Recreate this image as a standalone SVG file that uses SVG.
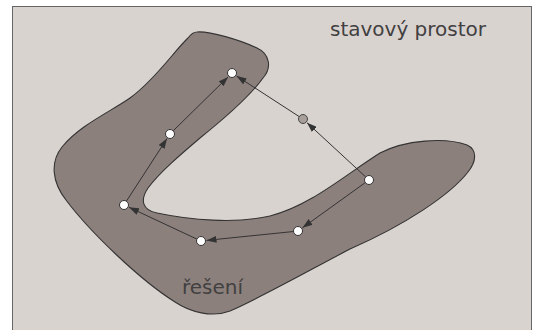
<svg xmlns="http://www.w3.org/2000/svg" width="536" height="330" viewBox="0 0 536 330">
<style>
.lbl{font-family:"DejaVu Sans",Verdana,sans-serif;font-size:20px;fill:#424040}
.edge{stroke:#333;stroke-width:1;fill:none;marker-end:url(#ah)}
.node{fill:#fff;stroke:#333;stroke-width:1}
.gnode{fill:#a89e9a;stroke:#444;stroke-width:1}
</style>
<defs>
<marker id="ah" markerUnits="userSpaceOnUse" markerWidth="10" markerHeight="7" refX="10" refY="3.5" orient="auto">
<path d="M0,0 L10,3.5 L0,7 z" fill="#333"/>
</marker>
</defs>
<rect x="0" y="0" width="536" height="330" fill="#fff"/>
<rect id="frame" x="12.5" y="6.5" width="519" height="330" fill="#d9d3d0" stroke="#666" stroke-width="1"/>
<g id="reseni">
<path d="M197,32 C210,31 240,40 257,48 C270,54 272,68 263,78 C250,96 225,118 200,138 C180,155 160,172 148,188 C140,200 142,210 157,213 C190,220 235,224 270,216 C310,206 345,175 380,153 C405,140 445,137 467,145 C478,150 476,162 468,172 C450,195 405,225 350,249 C310,270 260,298 230,311 C212,318 190,312 175,302 C140,280 90,232 66,200 C52,182 50,162 62,147 C80,125 110,112 130,98 C155,80 175,50 188,38 C191,34 194,32 197,32 Z" fill="#8c807d" stroke="#333" stroke-width="1.1"/>
<text class="lbl" x="182" y="294">řešení</text>
</g>
<text class="lbl" x="330" y="36">stavový prostor</text>
<g id="connectors">
<line class="edge" x1="173.2" y1="130.8" x2="228.1" y2="76.9"/>
<line class="edge" x1="126.4" y1="201.2" x2="167.0" y2="138.6"/>
<line class="edge" x1="196.9" y1="239.1" x2="129.0" y2="207.3"/>
<line class="edge" x1="293.5" y1="231.5" x2="206.5" y2="240.4"/>
<line class="edge" x1="365.3" y1="182.6" x2="302.5" y2="227.8"/>
<line class="edge" x1="365.7" y1="176.9" x2="307.0" y2="122.7"/>
<line class="edge" x1="299.2" y1="116.6" x2="236.6" y2="76.0"/>
</g>
<g id="n1"><circle class="node" cx="232" cy="73" r="4.5"/></g>
<g id="n2"><circle class="node" cx="170" cy="134" r="4.5"/></g>
<g id="n3"><circle class="node" cx="124" cy="205" r="4.5"/></g>
<g id="n4"><circle class="node" cx="201" cy="241" r="4.5"/></g>
<g id="n5"><circle class="node" cx="298" cy="231" r="4.5"/></g>
<g id="n6"><circle class="node" cx="369" cy="180" r="4.5"/></g>
<g id="n7"><circle class="gnode" cx="303" cy="119" r="4.5"/></g>
</svg>
